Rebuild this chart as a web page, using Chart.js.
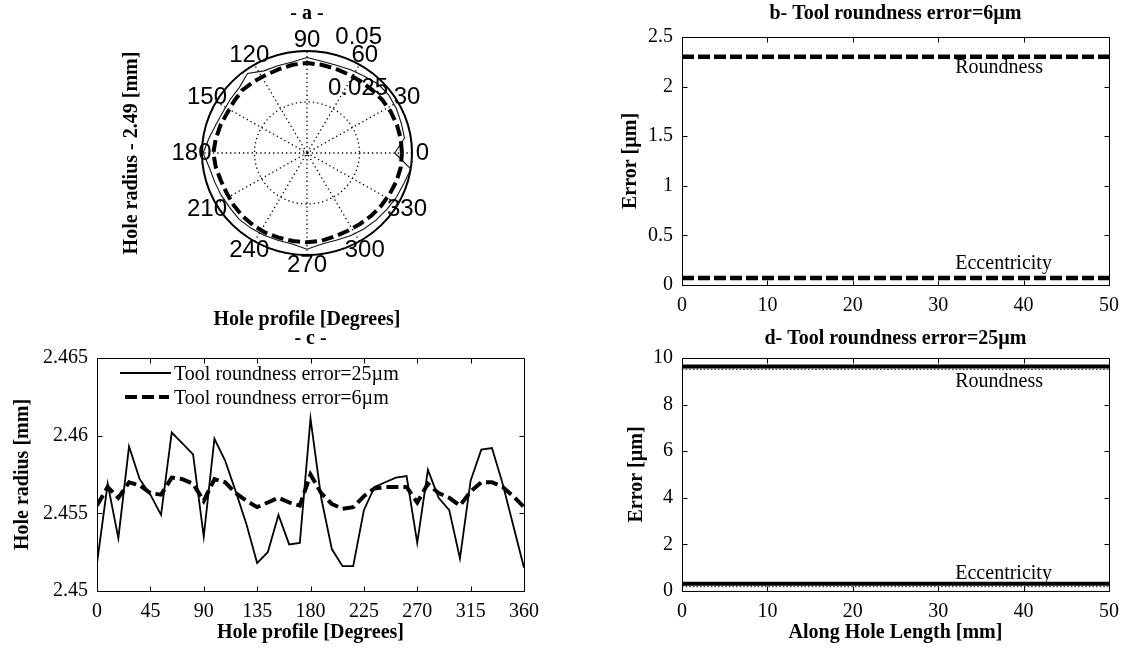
<!DOCTYPE html>
<html><head><meta charset="utf-8">
<script src="https://cdn.jsdelivr.net/npm/chart.js@4.4.1/dist/chart.umd.min.js"></script>
<style>
html,body{margin:0;padding:0;background:#fff;}
#wrap{position:relative;width:1128px;height:655px;overflow:hidden;background:#fff;}
canvas{position:absolute;left:0;top:0;}
</style></head><body>
<div id="wrap">
<canvas id="ca" width="1128" height="655"></canvas>
<canvas id="cb" width="1128" height="655"></canvas>
<canvas id="cc" width="1128" height="655"></canvas>
<canvas id="cd" width="1128" height="655"></canvas>
</div>
<script>
// ---------- data ----------
const polarAngles = [0,9,18,27,36,45,54,63,72,81,90,99,108,117,126,135,144,153,162,171,180,189,198,207,216,225,234,243,252,261,270,279,288,297,306,315,324,333,342,351,360];
const polarRadius25 = [0.0418,0.0470,0.0472,0.0478,0.0482,0.0478,0.0465,0.0458,0.0452,0.0455,0.0468,0.0452,0.0450,0.0452,0.0482,0.0455,0.0450,0.0448,0.0455,0.0472,0.0495,0.0470,0.0462,0.0458,0.0455,0.0458,0.0455,0.0452,0.0450,0.0452,0.0472,0.0452,0.0450,0.0455,0.0460,0.0465,0.0470,0.0478,0.0485,0.0500,0.0418];
const polarRadius6 = [0.0452,0.0452,0.0450,0.0447,0.0443,0.0438,0.0435,0.0433,0.0435,0.0438,0.0441,0.0438,0.0432,0.0430,0.0432,0.0436,0.0430,0.0428,0.0434,0.0440,0.0446,0.0440,0.0432,0.0430,0.0433,0.0436,0.0437,0.0438,0.0436,0.0437,0.0438,0.0436,0.0430,0.0428,0.0430,0.0434,0.0438,0.0442,0.0448,0.0452,0.0452];
const polarAngleTicks = [30,60,90,120,150,180,210,240,270,300,330,0];
const polarRadiusTicks = [0.025,0.05];

const profileDegrees = [0,9,18,27,36,45,54,63,72,81,90,99,108,117,126,135,144,153,162,171,180,189,198,207,216,225,234,243,252,261,270,279,288,297,306,315,324,333,342,351,360];
const profile25 = [2.4518,2.4569,2.4534,2.4593,2.4572,2.4562,2.4549,2.4602,2.4595,2.4588,2.4535,2.4598,2.4584,2.4564,2.4543,2.4518,2.4525,2.4549,2.4530,2.4531,2.4611,2.4560,2.4527,2.4516,2.4516,2.4552,2.4567,2.4570,2.4573,2.4574,2.4531,2.4578,2.4560,2.4552,2.4521,2.4571,2.4591,2.4592,2.4569,2.4542,2.4515];
const profile6 = [2.4555,2.4567,2.4560,2.4570,2.4568,2.4563,2.4562,2.4573,2.4572,2.4569,2.4558,2.4572,2.4570,2.4563,2.4558,2.4554,2.4557,2.4560,2.4557,2.4555,2.4575,2.4563,2.4556,2.4553,2.4554,2.4561,2.4566,2.4567,2.4567,2.4567,2.4557,2.4569,2.4563,2.4560,2.4555,2.4564,2.4570,2.4570,2.4567,2.4561,2.4554];

const lengthMm = [0,50];
const roundness6 = [2.30,2.30];
const eccentricity6 = [0.07,0.07];
const roundness25 = [9.63,9.63];
const roundness25Inner = [9.52,9.52];
const eccentricity25 = [0.31,0.31];
const eccentricity25Inner = [0.20,0.20];

const labelsSeries = ['Tool roundness error=25\u00b5m','Tool roundness error=6\u00b5m'];

// ---------- style ----------
const SERIF = '"Liberation Serif","Times New Roman",Times,serif';
const SANS = '"Liberation Sans",Arial,Helvetica,sans-serif';
Chart.defaults.font.family = SERIF;
Chart.defaults.font.size = 20;
Chart.defaults.color = '#000';

const fmt = v => String(Number(Number(v).toFixed(4)));
const pts = (xs, ys) => xs.map((v,i) => ({x:v, y:ys[i]}));
const polarPts = (angs, rs) => angs.map((a,i) => ({x: rs[i]*Math.cos(a*Math.PI/180), y: rs[i]*Math.sin(a*Math.PI/180)}));

const matlabBox = {
  id:'matlabBox',
  afterDraw(chart){
    const {ctx, chartArea:a, scales:{x,y}} = chart;
    ctx.save();
    ctx.strokeStyle='#000'; ctx.lineWidth=1; ctx.setLineDash([]);
    ctx.beginPath();
    const l=Math.round(a.left)+0.5, t=Math.round(a.top)+0.5, r=Math.round(a.right)+0.5, b=Math.round(a.bottom)+0.5;
    ctx.rect(l,t,r-l,b-t);
    const L=5;
    x.ticks.forEach(tk=>{const p=Math.round(x.getPixelForValue(tk.value))+0.5; ctx.moveTo(p,b); ctx.lineTo(p,b-L); ctx.moveTo(p,t); ctx.lineTo(p,t+L);});
    y.ticks.forEach(tk=>{const p=Math.round(y.getPixelForValue(tk.value))+0.5; ctx.moveTo(l,p); ctx.lineTo(l+L,p); ctx.moveTo(r,p); ctx.lineTo(r-L,p);});
    ctx.stroke(); ctx.restore();
  }
};

const notesPlugin = {
  id:'notes',
  afterDatasetsDraw(chart, args, opts){
    const {ctx, scales:{x,y}} = chart;
    (opts.items||[]).forEach(n=>{
      ctx.save(); ctx.font='20px '+SERIF; ctx.fillStyle='#000'; ctx.textAlign='left'; ctx.textBaseline='middle';
      ctx.fillText(n.text, x.getPixelForValue(n.x), y.getPixelForValue(n.y)); ctx.restore();
    });
  }
};

const lineLegend = {
  id:'lineLegend',
  afterDraw(chart, args, opts){
    const {ctx, chartArea:a} = chart;
    chart.data.datasets.forEach((ds,i)=>{
      const yy = a.top + opts.firstRow + i*opts.rowGap;
      ctx.save();
      ctx.strokeStyle=ds.borderColor; ctx.lineWidth=ds.borderWidth; ctx.setLineDash(ds.borderDash||[]);
      ctx.beginPath(); ctx.moveTo(a.left+opts.lineStart[i], yy); ctx.lineTo(a.left+opts.lineEnd[i], yy); ctx.stroke();
      ctx.setLineDash([]);
      ctx.font='20px '+SERIF; ctx.fillStyle='#000'; ctx.textAlign='left'; ctx.textBaseline='middle';
      ctx.fillText(ds.label, a.left+opts.textX, yy+opts.textDy);
      ctx.restore();
    });
  }
};

const polarGrid = {
  id:'polarGrid',
  beforeDatasetsDraw(chart){
    const {ctx, scales:{x,y}} = chart;
    const cx=x.getPixelForValue(0), cy=y.getPixelForValue(0);
    const rmax=polarRadiusTicks[polarRadiusTicks.length-1];
    const rx=v=>x.getPixelForValue(v)-cx, ry=v=>cy-y.getPixelForValue(v);
    ctx.save();
    ctx.strokeStyle='#000'; ctx.lineWidth=1.3; ctx.setLineDash([1.3,3]);
    polarAngleTicks.slice(0,6).forEach(a=>{
      const t=a*Math.PI/180;
      ctx.beginPath();
      ctx.moveTo(x.getPixelForValue(-rmax*Math.cos(t)), y.getPixelForValue(-rmax*Math.sin(t)));
      ctx.lineTo(x.getPixelForValue(rmax*Math.cos(t)), y.getPixelForValue(rmax*Math.sin(t)));
      ctx.stroke();
    });
    polarRadiusTicks.forEach(r=>{ctx.beginPath(); ctx.ellipse(cx,cy,rx(r),ry(r),0,0,2*Math.PI); ctx.stroke();});
    ctx.setLineDash([]); ctx.lineWidth=2;
    ctx.beginPath(); ctx.ellipse(cx,cy,rx(rmax),ry(rmax),0,0,2*Math.PI); ctx.stroke();
    ctx.restore();
  },
  afterDatasetsDraw(chart){
    const {ctx, scales:{x,y}} = chart;
    const rmax=polarRadiusTicks[polarRadiusTicks.length-1];
    ctx.save();
    ctx.fillStyle='#000'; ctx.font='24px '+SANS;
    ctx.textAlign='center'; ctx.textBaseline='middle';
    polarAngleTicks.forEach(a=>{
      const t=a*Math.PI/180;
      ctx.fillText(String(a), x.getPixelForValue(1.1*rmax*Math.cos(t)), y.getPixelForValue(1.1*rmax*Math.sin(t)));
    });
    const c82=Math.cos(82*Math.PI/180), s82=Math.sin(82*Math.PI/180);
    const rinc = polarRadiusTicks[0];
    ctx.textAlign='left'; ctx.textBaseline='bottom';
    polarRadiusTicks.forEach(r=>{
      const rr=r+rinc/20;
      ctx.fillText('  '+r, x.getPixelForValue(rr*c82), y.getPixelForValue(rr*s82));
    });
    ctx.restore();
  }
};

const base = {responsive:false, animation:false, events:[]};
const titleFont = {family:SERIF, size:20, weight:'bold'};
const tickFont = {family:SERIF, size:20, weight:'normal'};

// ---------- panel a (polar) ----------
new Chart(document.getElementById('ca'), {
  type:'scatter',
  data:{datasets:[
    {label:labelsSeries[0], data:polarPts(polarAngles, polarRadius25), showLine:true, borderColor:'#111', borderWidth:1.1, pointRadius:0, order:1},
    {label:labelsSeries[1], data:polarPts(polarAngles, polarRadius6), showLine:true, borderColor:'#000', borderWidth:4, borderDash:[12,5], pointRadius:0, order:0}
  ]},
  options:Object.assign({}, base, {
    layout:{padding:{left:0, top:2, right:1128-412, bottom:655-255-77}},
    plugins:{legend:{display:false}, tooltip:{enabled:false},
      title:{display:true, text:'- a -', font:titleFont, color:'#000', fullSize:false, padding:{top:0,bottom:25}}},
    scales:{
      x:{type:'linear', min:-0.05, max:0.05, grid:{display:false, drawTicks:false}, border:{display:false}, ticks:{display:false},
         title:{display:true, text:'Hole profile [Degrees]', font:titleFont, color:'#000', padding:{top:0,bottom:0}},
         afterFit:s=>{s.height=77;}},
      y:{type:'linear', min:-0.05, max:0.05, grid:{display:false, drawTicks:false}, border:{display:false}, ticks:{display:false},
         title:{display:true, text:'Hole radius - 2.49 [mm]', font:titleFont, color:'#000', padding:{top:120,bottom:0}},
         afterFit:s=>{s.width=202;}}
    }
  }),
  plugins:[polarGrid]
});

// ---------- panel b ----------
new Chart(document.getElementById('cb'), {
  type:'scatter',
  data:{datasets:[
    {label:'Roundness', data:pts(lengthMm, roundness6), showLine:true, borderColor:'#000', borderWidth:4.5, borderDash:[12,4], pointRadius:0},
    {label:'Eccentricity', data:pts(lengthMm, eccentricity6), showLine:true, borderColor:'#000', borderWidth:4.5, borderDash:[12,4], pointRadius:0}
  ]},
  options:Object.assign({}, base, {
    layout:{padding:{left:600, top:2, right:1128-1111, bottom:655-285-40}},
    plugins:{legend:{display:false}, tooltip:{enabled:false},
      title:{display:true, text:'b- Tool roundness error=6\u00b5m', font:titleFont, color:'#000', fullSize:false, padding:{top:0,bottom:11}},
      notes:{items:[{text:'Roundness', x:32, y:2.19},{text:'Eccentricity', x:32, y:0.21}]}},
    scales:{
      x:{type:'linear', min:0, max:50, grid:{display:false, drawTicks:false}, border:{display:false},
         ticks:{stepSize:10, padding:9, font:tickFont, color:'#000', maxRotation:0, callback:v=>fmt(v)},
         afterFit:s=>{s.height=40;}},
      y:{type:'linear', min:0, max:2.5, grid:{display:false, drawTicks:false}, border:{display:false},
         ticks:{stepSize:0.5, padding:9, font:tickFont, color:'#000', callback:v=>fmt(v)},
         title:{display:true, text:'Error [\u00b5m]', font:titleFont, color:'#000', padding:{top:19,bottom:0}},
         afterFit:s=>{s.width=82;}}
    }
  }),
  plugins:[matlabBox, notesPlugin]
});

// ---------- panel c ----------
new Chart(document.getElementById('cc'), {
  type:'scatter',
  data:{datasets:[
    {label:labelsSeries[0], data:pts(profileDegrees, profile25), showLine:true, borderColor:'#000', borderWidth:1.8, pointRadius:0, order:1},
    {label:labelsSeries[1], data:pts(profileDegrees, profile6), showLine:true, borderColor:'#000', borderWidth:4, borderDash:[12,5], pointRadius:0, order:0}
  ]},
  options:Object.assign({}, base, {
    layout:{padding:{left:0, top:327, right:1128-524, bottom:655-591-60}},
    plugins:{legend:{display:false}, tooltip:{enabled:false},
      title:{display:true, text:'- c -', font:titleFont, color:'#000', fullSize:false, padding:{top:0,bottom:7}},
      lineLegend:{firstRow:15, rowGap:24, lineStart:[23,28], lineEnd:[74,72], textX:77, textDy:2}},
    scales:{
      x:{type:'linear', min:0, max:360, grid:{display:false, drawTicks:false}, border:{display:false},
         ticks:{stepSize:45, padding:9, font:tickFont, color:'#000', maxRotation:0, autoSkip:false, callback:v=>fmt(v)},
         title:{display:true, text:'Hole profile [Degrees]', font:titleFont, color:'#000', padding:{top:0,bottom:6}},
         afterFit:s=>{s.height=60;}},
      y:{type:'linear', min:2.45, max:2.465, grid:{display:false, drawTicks:false}, border:{display:false},
         ticks:{stepSize:0.005, padding:9, font:tickFont, color:'#000', callback:v=>fmt(v)},
         title:{display:true, text:'Hole radius [mm]', font:titleFont, color:'#000', padding:{top:11,bottom:0}},
         afterFit:s=>{s.width=97;}}
    }
  }),
  plugins:[matlabBox, lineLegend]
});

// ---------- panel d ----------
new Chart(document.getElementById('cd'), {
  type:'scatter',
  data:{datasets:[
    {label:'Roundness', data:pts(lengthMm, roundness25), showLine:true, borderColor:'#000', borderWidth:4, pointRadius:0, order:1},
    {label:'Roundness (inner)', data:pts(lengthMm, roundness25Inner), showLine:true, borderColor:'#444', borderWidth:1.6, borderDash:[1.6,2], pointRadius:0, order:0},
    {label:'Eccentricity', data:pts(lengthMm, eccentricity25), showLine:true, borderColor:'#000', borderWidth:4, pointRadius:0, order:1},
    {label:'Eccentricity (inner)', data:pts(lengthMm, eccentricity25Inner), showLine:true, borderColor:'#444', borderWidth:1.6, borderDash:[1.6,2], pointRadius:0, order:0}
  ]},
  options:Object.assign({}, base, {
    layout:{padding:{left:600, top:327, right:1128-1111, bottom:655-591-60}},
    plugins:{legend:{display:false}, tooltip:{enabled:false},
      title:{display:true, text:'d- Tool roundness error=25\u00b5m', font:titleFont, color:'#000', fullSize:false, padding:{top:0,bottom:7}},
      notes:{items:[{text:'Roundness', x:32, y:9.0},{text:'Eccentricity', x:32, y:0.74}]}},
    scales:{
      x:{type:'linear', min:0, max:50, grid:{display:false, drawTicks:false}, border:{display:false},
         ticks:{stepSize:10, padding:9, font:tickFont, color:'#000', maxRotation:0, callback:v=>fmt(v)},
         title:{display:true, text:'Along Hole Length [mm]', font:titleFont, color:'#000', padding:{top:0,bottom:6}},
         afterFit:s=>{s.height=60;}},
      y:{type:'linear', min:0, max:10, grid:{display:false, drawTicks:false}, border:{display:false},
         ticks:{stepSize:2, padding:9, font:tickFont, color:'#000', callback:v=>fmt(v)},
         title:{display:true, text:'Error [\u00b5m]', font:titleFont, color:'#000', padding:{top:25,bottom:0}},
         afterFit:s=>{s.width=82;}}
    }
  }),
  plugins:[matlabBox, notesPlugin]
});
</script>
</body></html>
